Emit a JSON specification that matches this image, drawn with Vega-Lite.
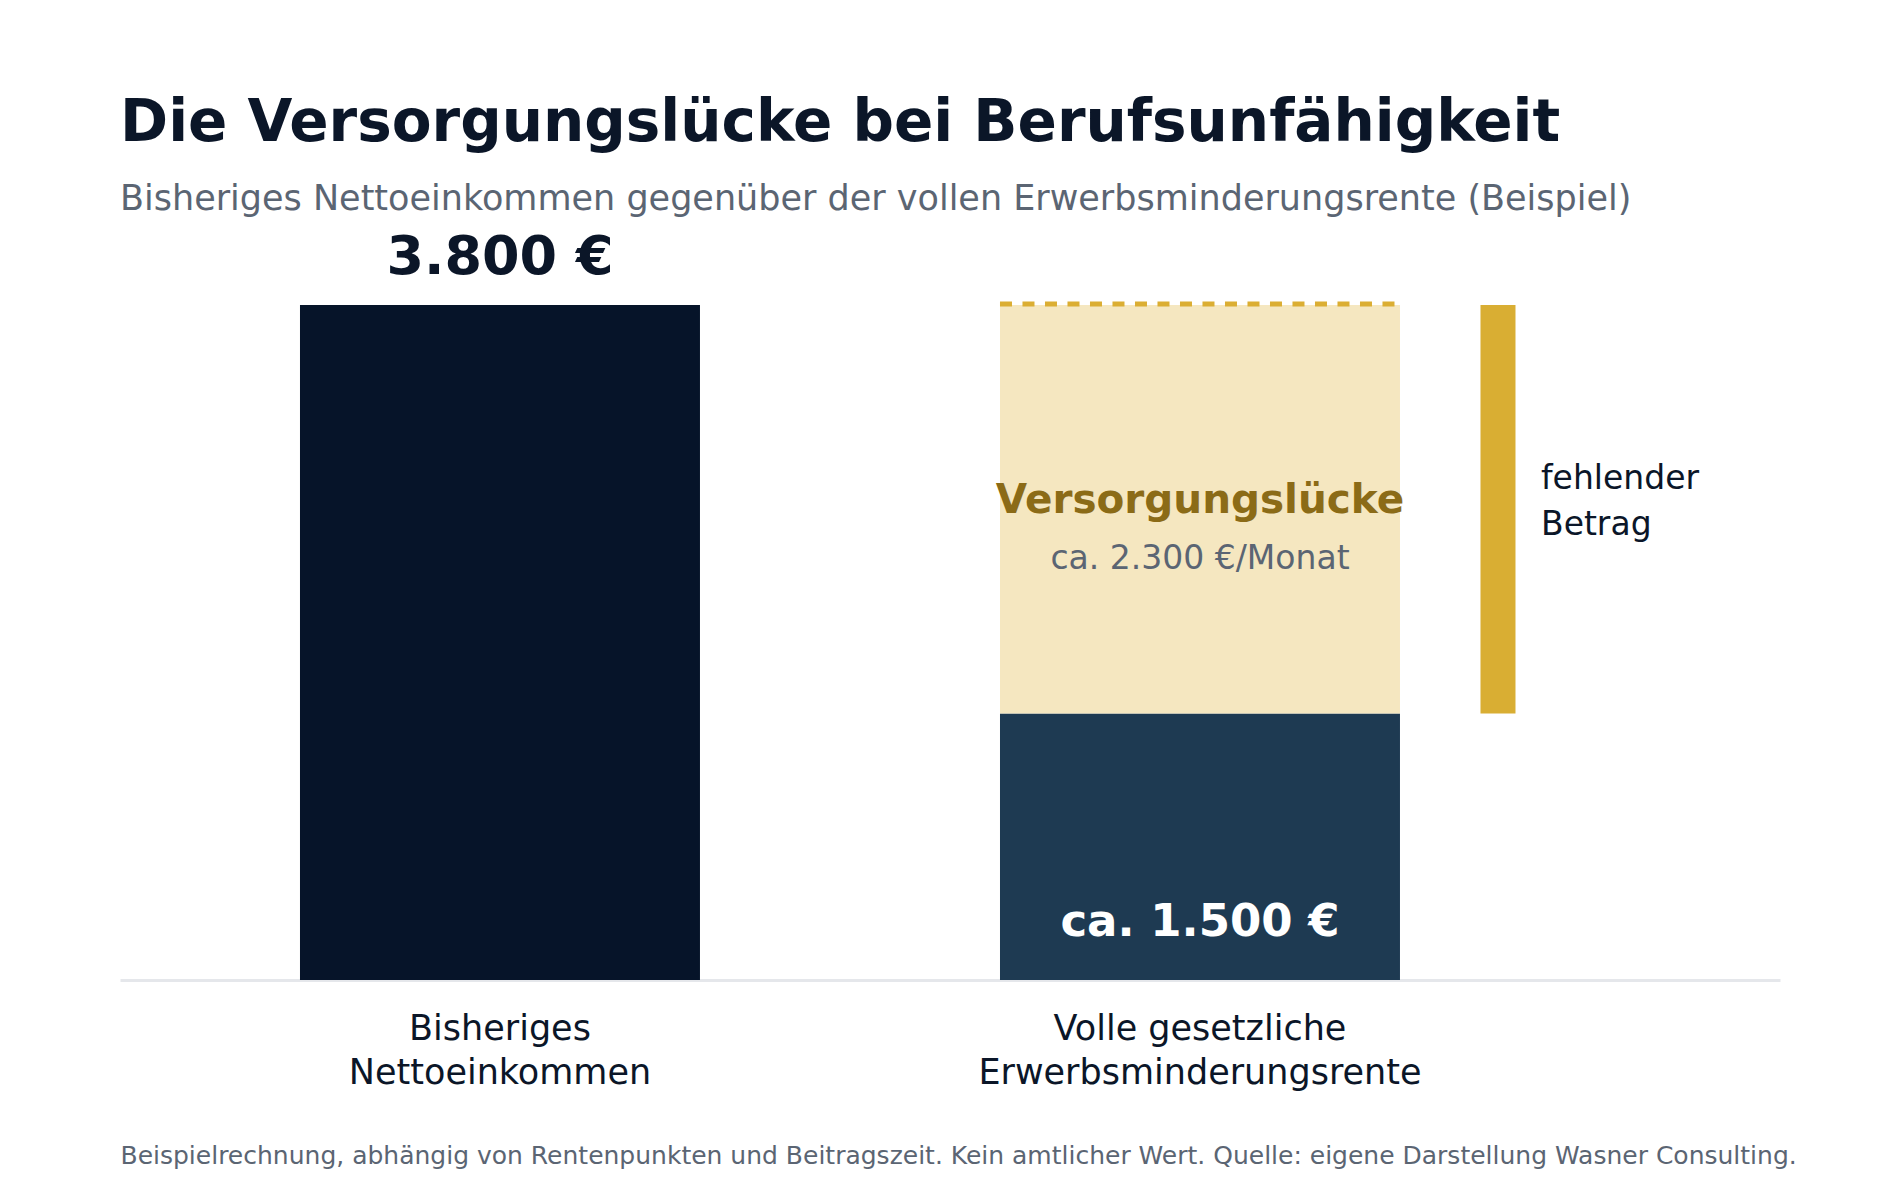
{
  "$schema": "https://vega.github.io/schema/vega-lite/v6.json",
  "width": 1660,
  "height": 675,
  "autosize": {"type": "none"},
  "padding": {"left": 120, "top": 305, "right": 120, "bottom": 220},
  "background": "white",
  "config": {"font": "DejaVu Sans", "view": {"stroke": null}},
  "title": {
    "text": "Die Versorgungslücke bei Berufsunfähigkeit",
    "subtitle": "Bisheriges Nettoeinkommen gegenüber der vollen Erwerbsminderungsrente (Beispiel)",
    "anchor": "start",
    "frame": "group",
    "fontSize": 58,
    "fontWeight": "bold",
    "color": "#0b1628",
    "subtitleFontSize": 35,
    "subtitleColor": "#5b6573",
    "subtitlePadding": 29,
    "offset": 14
  },
  "data": {
    "values": [
      {"kategorie": "Bisheriges Nettoeinkommen", "teil": "Nettoeinkommen", "von": 0, "bis": 3800, "beschriftung": "3.800 €"},
      {"kategorie": "Volle gesetzliche Erwerbsminderungsrente", "teil": "Erwerbsminderungsrente", "von": 0, "bis": 1500, "beschriftung": "ca. 1.500 €"},
      {"kategorie": "Volle gesetzliche Erwerbsminderungsrente", "teil": "Versorgungslücke", "von": 1500, "bis": 3800, "beschriftung": "ca. 2.300 €/Monat"}
    ]
  },
  "encoding": {
    "x": {
      "field": "kategorie",
      "type": "nominal",
      "sort": null,
      "scale": {"paddingInner": 0.4286, "paddingOuter": 0.4, "align": 0.3214},
      "axis": {
        "title": "Beispielrechnung, abhängig von Rentenpunkten und Beitragszeit. Kein amtlicher Wert. Quelle: eigene Darstellung Wasner Consulting.",
        "titleAnchor": "start",
        "titleAlign": "left",
        "titleFontSize": 25,
        "titleFontWeight": "normal",
        "titleColor": "#5b6573",
        "titlePadding": 53,
        "labelAngle": 0,
        "labelFontSize": 35,
        "labelColor": "#0b1628",
        "labelLineHeight": 44,
        "labelPadding": 31,
        "labelLimit": 0,
        "labelExpr": "[slice(datum.label, 0, lastindexof(datum.label, ' ')), slice(datum.label, lastindexof(datum.label, ' ') + 1)]",
        "ticks": false,
        "domainColor": "#e5e7eb",
        "domainWidth": 3
      }
    }
  },
  "layer": [
    {
      "mark": {"type": "bar"},
      "encoding": {
        "y": {"field": "von", "type": "quantitative", "scale": {"domain": [0, 3800], "nice": false}, "axis": null},
        "y2": {"field": "bis"},
        "color": {
          "field": "teil",
          "type": "nominal",
          "scale": {
            "domain": ["Nettoeinkommen", "Erwerbsminderungsrente", "Versorgungslücke"],
            "range": ["#061429", "#1e3a52", "#f5e7c0"]
          },
          "legend": null
        }
      }
    },
    {
      "transform": [{"filter": "datum.teil == 'Versorgungslücke'"}],
      "mark": {"type": "rule", "color": "#dbae33", "strokeWidth": 5, "strokeDash": [12, 10.5], "xOffset": -200, "x2Offset": 200, "yOffset": -1},
      "encoding": {
        "x2": {"field": "kategorie"},
        "y": {"field": "bis", "type": "quantitative"}
      }
    },
    {
      "transform": [{"filter": "datum.teil == 'Versorgungslücke'"}],
      "mark": {"type": "bar", "width": 35, "xOffset": 298, "color": "#d9ae33"},
      "encoding": {
        "y": {"field": "von", "type": "quantitative"},
        "y2": {"field": "bis"}
      }
    },
    {
      "transform": [{"filter": "datum.teil == 'Nettoeinkommen'"}],
      "mark": {"type": "text", "fontSize": 54, "fontWeight": "bold", "color": "#0b1628", "baseline": "alphabetic", "dy": -31},
      "encoding": {
        "y": {"field": "bis", "type": "quantitative"},
        "text": {"field": "beschriftung"}
      }
    },
    {
      "transform": [{"filter": "datum.teil == 'Erwerbsminderungsrente'"}],
      "mark": {"type": "text", "fontSize": 45, "fontWeight": "bold", "color": "#ffffff", "baseline": "alphabetic", "dy": -44},
      "encoding": {
        "y": {"field": "von", "type": "quantitative"},
        "text": {"field": "beschriftung"}
      }
    },
    {
      "transform": [{"filter": "datum.teil == 'Versorgungslücke'"}],
      "mark": {"type": "text", "fontSize": 40.5, "fontWeight": "bold", "color": "#8b6b17", "baseline": "middle", "dy": 196},
      "encoding": {
        "y": {"field": "bis", "type": "quantitative"},
        "text": {"field": "teil"}
      }
    },
    {
      "transform": [{"filter": "datum.teil == 'Versorgungslücke'"}],
      "mark": {"type": "text", "fontSize": 33, "color": "#5b6573", "baseline": "middle", "dy": 254},
      "encoding": {
        "y": {"field": "bis", "type": "quantitative"},
        "text": {"field": "beschriftung"}
      }
    },
    {
      "transform": [{"filter": "datum.teil == 'Versorgungslücke'"}],
      "mark": {"type": "text", "fontSize": 33, "color": "#0b1628", "align": "left", "baseline": "middle", "lineHeight": 46, "xOffset": 341, "dy": 174},
      "encoding": {
        "y": {"field": "bis", "type": "quantitative"},
        "text": {"value": ["fehlender", "Betrag"]}
      }
    }
  ]
}
